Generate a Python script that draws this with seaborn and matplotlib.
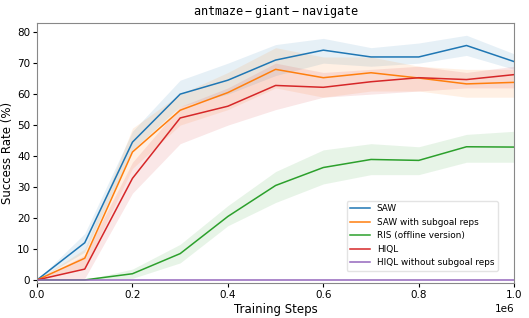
import numpy as np
import pandas as pd
import matplotlib
matplotlib.use("Agg")
import matplotlib.pyplot as plt
import seaborn as sns

# training steps
steps = [0, 1e5, 2e5, 3e5, 4e5, 5e5, 6e5, 7e5, 8e5, 9e5, 1e6]

# mean success rates (%)
saw = [0, 12, 44.5, 60, 64.5, 71, 74.2, 72, 72, 75.7, 70.5]
saw_sub = [0, 7, 41.3, 54.8, 60.5, 68, 65.3, 66.9, 65.2, 63.3, 63.8]
ris = [0, 0, 2, 8.5, 20.5, 30.5, 36.3, 38.9, 38.6, 43, 42.9]
hiql = [0, 3.5, 32.8, 52.3, 56.1, 62.8, 62.2, 64, 65.3, 64.7, 66.3]
hiql_nosub = [0, 0, 0, 0, 0, 0, 0, 0, 0, 0, 0]

# shaded band bounds
saw_lo = [0, 9, 42, 56, 60, 66, 70, 69, 70, 72.5, 68]
saw_hi = [0, 15, 48, 64.5, 70, 76, 78, 75, 76.5, 79, 73]
saw_sub_lo = [0, 4, 36, 50, 55, 62, 59, 61, 61, 59, 59]
saw_sub_hi = [0, 10, 49, 60, 67, 75, 72, 72, 69, 68, 68]
ris_lo = [0, 0, 0.5, 5.5, 17.5, 25, 31, 34, 34, 38, 38]
ris_hi = [0, 0, 3.5, 11.5, 24, 35, 42, 44, 43, 47, 48]
hiql_lo = [0, 0.5, 28, 44, 50, 55, 59, 60, 61, 62, 62]
hiql_hi = [0, 8, 38, 56, 62, 70, 67, 68, 69, 67, 69]

labels = ["SAW", "SAW with subgoal reps", "RIS (offline version)", "HIQL", "HIQL without subgoal reps"]
colors = ["#1f77b4", "#ff7f0e", "#2ca02c", "#d62728", "#9467bd"]

means = [saw, saw_sub, ris, hiql, hiql_nosub]
lows = [saw_lo, saw_sub_lo, ris_lo, hiql_lo, hiql_nosub]
highs = [saw_hi, saw_sub_hi, ris_hi, hiql_hi, hiql_nosub]

rows = []
for lab, m in zip(labels, means):
    for s, v in zip(steps, m):
        rows.append({"step": s, "rate": v, "method": lab})
df = pd.DataFrame(rows)

fig = plt.figure(figsize=(5.29, 3.18), dpi=100)
ax = fig.add_axes([0.07, 0.11, 0.902, 0.818])

for lo, hi, c in zip(lows, highs, colors):
    ax.fill_between(steps, lo, hi, color=c, alpha=0.11, linewidth=0)

sns.lineplot(data=df, x="step", y="rate", hue="method", hue_order=labels,
             palette=colors, linewidth=1.1, ax=ax, legend=True)

ax.set_xlim(0, 1e6)
ax.set_ylim(-1, 83)
ax.set_xlabel("Training Steps", fontsize=8.5, labelpad=2)
ax.set_ylabel("Success Rate (%)", fontsize=8.5, labelpad=2)
ax.set_title(r"$\mathtt{antmaze-giant-navigate}$", fontsize=8.5, pad=6)
ax.tick_params(labelsize=7.5, length=3, pad=2)
ax.xaxis.get_offset_text().set_fontsize(7.5)
for sp in ax.spines.values():
    sp.set_color("#888888")

leg = ax.legend(loc="lower right", fontsize=6.4, frameon=True,
                bbox_to_anchor=(0.975, 0.03), handlelength=2.2)
leg.get_frame().set_edgecolor("#dddddd")
# thicker flat line at zero, drawn after the legend so the legend handle stays thin
ax.lines[-1].set_linewidth(2)

fig.savefig("out.png", dpi=100)
